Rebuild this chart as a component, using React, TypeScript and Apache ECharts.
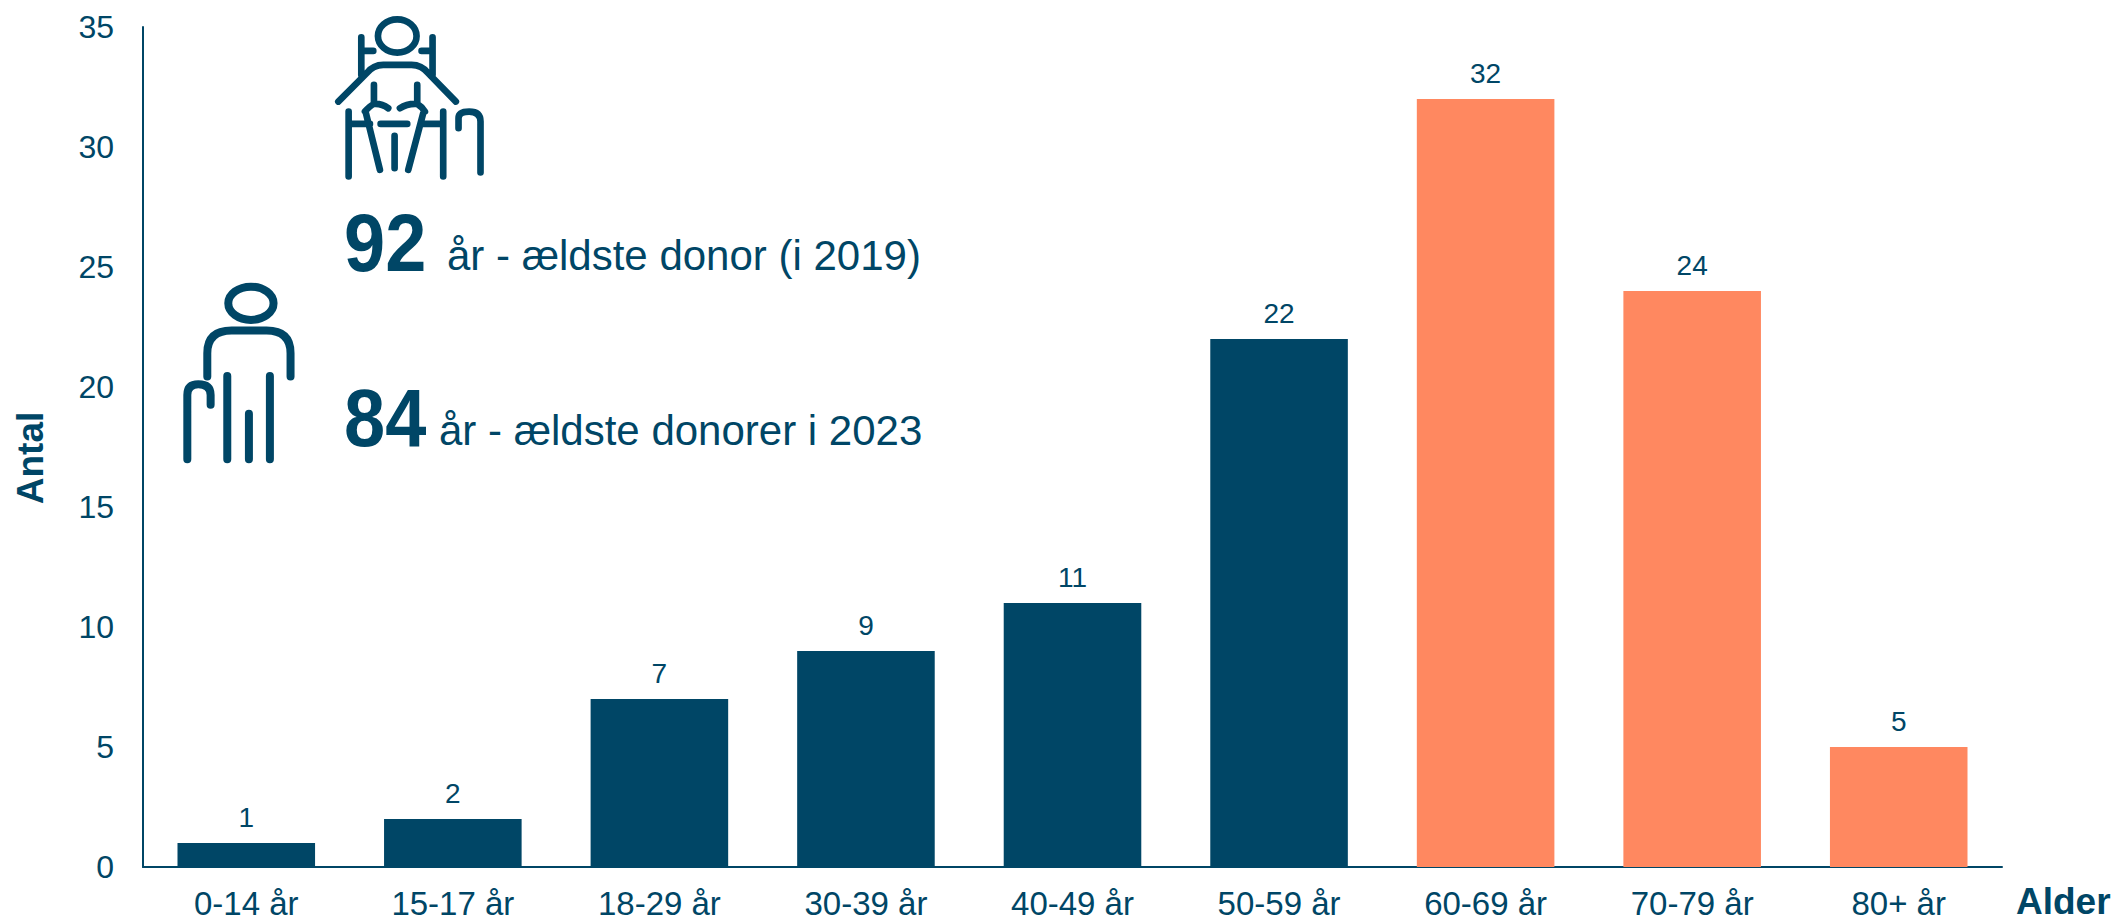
import React, { useEffect, useRef } from "react";
import * as echarts from "echarts";

const categories = ["0-14 år", "15-17 år", "18-29 år", "30-39 år", "40-49 år", "50-59 år", "60-69 år", "70-79 år", "80+ år"];
const values = [1, 2, 7, 9, 11, 22, 32, 24, 5];
const highlighted = [false, false, false, false, false, false, true, true, true];
const NAVY = "#004666";
const ORANGE = "#FF8860";
const FONT = "'Liberation Sans', Arial, sans-serif";

const wheelchairIcon =
  "M174 108a58 50 0 1 0 116 0a58 50 0 1 0 -116 0Z M124 112V225 M124 153H160 M338 112V225 M338 153H305 " +
  "M55 305L140 220Q160 195 190 195H275Q305 195 325 220L408 305 M162 255V312 M292 255V312 " +
  "M135 335Q150 318 162 312Q185 310 205 325 M240 325Q262 310 292 312Q305 320 315 335 " +
  "M138 340L180 510 M310 340L265 510 M182 372H262 M224 408V505 M86 335V530 M370 335V530 M86 372H150 M370 372H305 " +
  "M416 385V355Q416 335 448 335Q482 335 482 365V518";
const walkerIcon =
  "M175 100a68 50 0 1 0 136 0a68 50 0 1 0 -136 0Z M112 320V250Q112 182 185 182H290Q362 182 362 250V320 " +
  "M172 318V568 M300 318V568 M237 432V568 M52 568V375Q52 343 85 343Q122 343 122 375V405";

echarts.graphic.registerShape("wheelchairIcon", echarts.graphic.extendPath(wheelchairIcon, {}));
echarts.graphic.registerShape("walkerIcon", echarts.graphic.extendPath(walkerIcon, {}));

export default function App() {
  const ref = useRef<HTMLDivElement>(null);
  useEffect(() => {
    document.body.style.margin = "0";
    const chart = echarts.init(ref.current!, undefined, { renderer: "svg" });
    const iconStyle = (w: number) => ({ fill: "none", stroke: NAVY, lineWidth: w, lineCap: "round", lineJoin: "round" });
    chart.setOption({
      animation: false,
      grid: { left: 143, right: 112, top: 27, bottom: 53 },
      xAxis: {
        type: "category",
        data: categories,
        axisTick: { show: false },
        axisLine: { lineStyle: { color: NAVY, width: 2 } },
        axisLabel: { color: NAVY, fontSize: 33, lineHeight: 30, fontFamily: FONT, margin: 21, interval: 0 },
      },
      yAxis: {
        type: "value",
        min: 0,
        max: 35,
        interval: 5,
        splitLine: { show: false },
        axisTick: { show: false },
        axisLine: { show: true, lineStyle: { color: NAVY, width: 2 } },
        axisLabel: { color: NAVY, fontSize: 32, fontFamily: FONT, margin: 29 },
      },
      series: [
        {
          type: "bar",
          barWidth: "66.6%",
          data: values.map((v, i) => ({ value: v, itemStyle: { color: highlighted[i] ? ORANGE : NAVY } })),
          label: { show: true, position: "top", distance: 12, color: NAVY, fontSize: 28, fontFamily: FONT },
        },
      ],
      graphic: [
        { type: "wheelchairIcon", x: 320, y: 0, scaleX: 1 / 3, scaleY: 1 / 3, style: iconStyle(20) },
        { type: "walkerIcon", x: 170, y: 270, scaleX: 1 / 3, scaleY: 1 / 3, style: iconStyle(24) },
        { type: "text", x: 344, y: 243, scaleY: 1.1, style: { text: "92", fill: NAVY, font: `bold 74px ${FONT}`, textVerticalAlign: "middle" } },
        { type: "text", x: 447, y: 255, style: { text: "år - ældste donor (i 2019)", fill: NAVY, font: `42px ${FONT}`, textVerticalAlign: "middle" } },
        { type: "text", x: 344, y: 418, scaleY: 1.1, style: { text: "84", fill: NAVY, font: `bold 74px ${FONT}`, textVerticalAlign: "middle" } },
        { type: "text", x: 439, y: 430, style: { text: "år - ældste donorer i 2023", fill: NAVY, font: `42px ${FONT}`, textVerticalAlign: "middle" } },
        { type: "text", x: 30, y: 458, rotation: Math.PI / 2, style: { text: "Antal", fill: NAVY, font: `bold 37px ${FONT}`, textAlign: "center", textVerticalAlign: "middle" } },
        { type: "text", x: 2016, y: 901, style: { text: "Alder", fill: NAVY, font: `bold 37px ${FONT}`, textVerticalAlign: "middle" } },
      ],
    });
    return () => chart.dispose();
  }, []);
  return <div ref={ref} style={{ width: 2114, height: 920 }} />;
}
